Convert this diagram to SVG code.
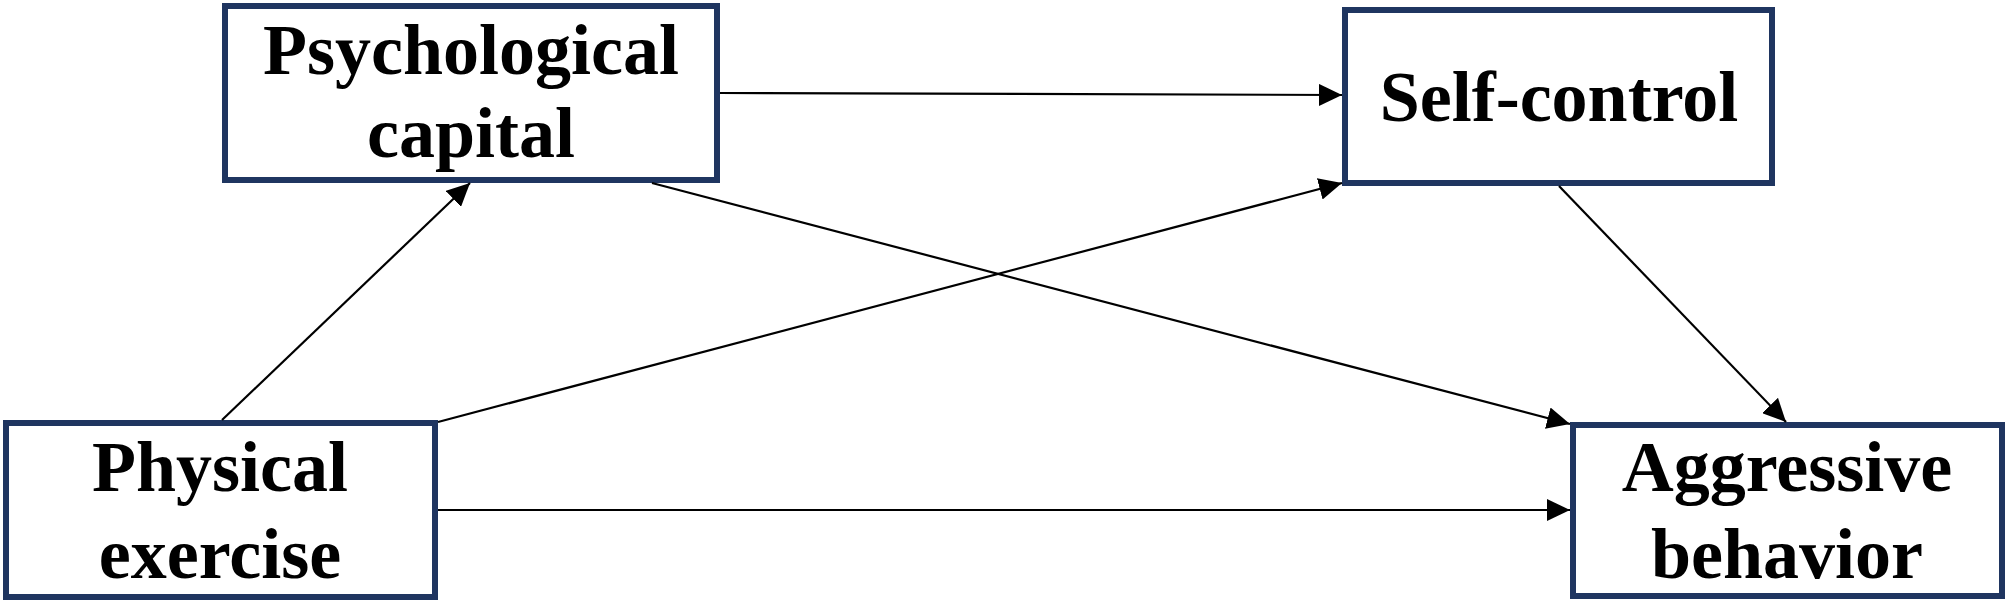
<svg xmlns="http://www.w3.org/2000/svg" width="2008" height="603" viewBox="0 0 2008 603">
  <style>
    .box { fill: #ffffff; stroke: #1f3560; stroke-width: 6; }
    .lbl { font-family: "Liberation Serif", "Times New Roman", serif; font-weight: bold; font-size: 72px; fill: #000000; text-anchor: middle; }
    .edge { stroke: #000000; stroke-width: 2.2; fill: none; marker-end: url(#arrow); }
  </style>
  <defs>
    <marker id="arrow" markerUnits="userSpaceOnUse" markerWidth="24" markerHeight="22" viewBox="0 0 24 22" refX="23" refY="11" orient="auto">
      <path d="M0,0 L23,11 L0,22 z" fill="#000000"/>
    </marker>
  </defs>
  <rect width="2008" height="603" fill="#ffffff"/>
  <g id="node-psych">
    <rect class="box" x="225" y="6" width="492" height="174"/>
    <text class="lbl" x="471" y="74">Psychological</text>
    <text class="lbl" x="471" y="157">capital</text>
  </g>
  <g id="node-selfcontrol">
    <rect class="box" x="1345" y="10" width="427" height="173"/>
    <text class="lbl" x="1559" y="121">Self-control</text>
  </g>
  <g id="node-physical">
    <rect class="box" x="6" y="423" width="429" height="174"/>
    <text class="lbl" x="220" y="491">Physical</text>
    <text class="lbl" x="220" y="578">exercise</text>
  </g>
  <g id="node-aggressive">
    <rect class="box" x="1573" y="425" width="429" height="171"/>
    <text class="lbl" x="1787" y="491">Aggressive</text>
    <text class="lbl" x="1787" y="578">behavior</text>
  </g>
  <g id="connectors">
    <line class="edge" x1="720" y1="93" x2="1342" y2="95"/>
    <line class="edge" x1="222" y1="420" x2="470" y2="183"/>
    <line class="edge" x1="652" y1="183" x2="1570" y2="424"/>
    <line class="edge" x1="438" y1="422" x2="1342" y2="183"/>
    <line class="edge" x1="1559" y1="186" x2="1786" y2="422"/>
    <line class="edge" x1="438" y1="510" x2="1570" y2="510"/>
  </g>
</svg>
